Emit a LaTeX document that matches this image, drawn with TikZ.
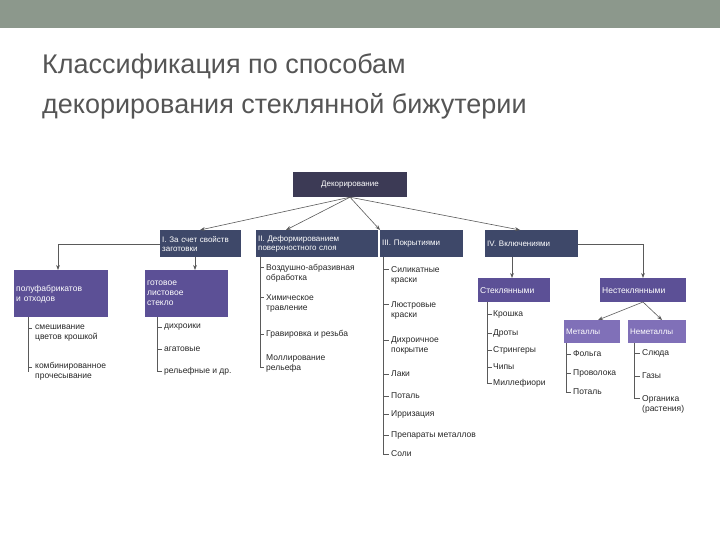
\documentclass[tikz,border=0pt]{standalone}
\usepackage{fontspec}
\setmainfont{Liberation Sans}
\usetikzlibrary{arrows.meta}
\definecolor{barc}{RGB}{140,152,140}
\definecolor{rootc}{RGB}{60,58,85}
\definecolor{lvc}{RGB}{62,72,105}
\definecolor{subc}{RGB}{92,80,150}
\definecolor{subl}{RGB}{128,112,184}
\definecolor{titc}{RGB}{85,85,85}
\definecolor{linec}{RGB}{90,90,90}
\begin{document}
\begin{tikzpicture}[x=1pt,y=-1pt,
  box/.style={draw=none,text=white,font=\fontsize{8}{9}\selectfont,align=left,inner sep=2pt,anchor=north west},
  item/.style={anchor=west,font=\fontsize{8.5}{10}\selectfont,align=left,inner sep=1pt,text=black!85},
  ln/.style={draw=linec,line width=0.6pt},
  arr/.style={ln,-{Stealth[length=5pt]}}]
\useasboundingbox (0,0) rectangle (720,540);
\fill[barc] (0,0) rectangle (720,28);
\node[anchor=north west,text=titc,font=\fontsize{27}{40}\selectfont,align=left,inner sep=0] (title) at (42,54) {Классификация по способам\\декорирования стеклянной бижутерии};
% root
\node[box,fill=rootc,minimum width=114,minimum height=25,align=center,anchor=center] (root) at (350,184.5) {Декорирование};
% level 1
\node[box,fill=lvc,minimum width=81,minimum height=27,text width=77] (L1) at (160,230) {I. За счет свойств\\заготовки};
\node[box,fill=lvc,minimum width=122,minimum height=27,text width=118] (L2) at (256,230) {II. Деформированием\\поверхностного слоя};
\node[box,fill=lvc,minimum width=83,minimum height=27,text width=79] (L3) at (380,230) {\\[-4pt]III. Покрытиями};
\node[box,fill=lvc,minimum width=93,minimum height=27,text width=89] (L4) at (485,230) {\\[-4pt]IV. Включениями};
\foreach \n/\x in {L1/200,L2/286,L3/380,L4/520}
  \draw[arr] (root.south) -- (\x,230);
% I children
\node[box,fill=subc,minimum width=94,minimum height=47,text width=90,font=\fontsize{8.5}{10}\selectfont] (S1) at (14,270) {\\[-2pt]полуфабрикатов\\и отходов};
\node[box,fill=subc,minimum width=83,minimum height=47,text width=79,font=\fontsize{8.5}{10}\selectfont] (S2) at (145,270) {готовое\\листовое\\стекло};
\coordinate (c1) at (58,244);
\draw[ln] (L1.west |- 0,244) -- (c1);
\draw[arr] (c1) -- (58,270);
\draw[arr] (195,257) -- (195,270);
\draw[ln] (28,317) -- (28,372);
\draw[ln] (28,328) -- (32,328) (28,367) -- (32,367);
\node[item] (i11) at (34,333.5) {смешивание\\цветов крошкой};
\node[item] (i12) at (34,371.5) {комбинированное\\прочесывание};
\draw[ln] (157,317) -- (157,371);
\foreach \y/\t in {327/дихроики,349/агатовые,371/рельефные и др.}
  {\draw[ln] (157,\y) -- (162,\y); \node[item] at (163,\y) {\t};}
% II
\draw[ln] (260,257) -- (260,367);
\foreach \y/\yt/\t in {267/273/{Воздушно-абразивная\\обработка},297/303/{Химическое\\травление},334/334/{Гравировка и резьба},367/363/{Моллирование\\рельефа}}
  {\draw[ln] (260,\y) -- (264,\y); \node[item] at (265,\yt) {\t};}
% III
\draw[ln] (383,257) -- (383,454);
\foreach \y/\yt/\t in {269/275/{Силикатные\\краски},304/310/{Люстровые\\краски},340/345/{Дихроичное\\покрытие},374/374/Лаки,396/396/Поталь,414/414/Ирризация,435/435/Препараты металлов,454/454/Соли}
  {\draw[ln] (383,\y) -- (389,\y); \node[item] at (390,\yt) {\t};}
% IV
\node[box,fill=subc,minimum width=72,minimum height=24,text width=68,font=\fontsize{8.5}{10}\selectfont] (G) at (478,278) {Стеклянными};
\node[box,fill=subc,minimum width=86,minimum height=24,text width=82,font=\fontsize{8.5}{10}\selectfont] (N) at (600,278) {Нестеклянными};
\draw[arr] (512,257) -- (512,278);
\coordinate (c4) at (643,244);
\draw[ln] (L4.east |- 0,244) -- (c4);
\draw[arr] (c4) -- (643,278);
\draw[ln] (487,302) -- (487,383);
\foreach \y/\t in {314/Крошка,333/Дроты,350/Стрингеры,367/Чипы,383/Миллефиори}
  {\draw[ln] (487,\y) -- (492,\y); \node[item] at (492,\y) {\t};}
\node[box,fill=subl,minimum width=56,minimum height=23,text width=52] (M) at (564,320) {Металлы};
\node[box,fill=subl,minimum width=58,minimum height=23,text width=54] (NM) at (628,320) {Неметаллы};
\draw[arr] (643,302) -- (598,320);
\draw[arr] (643,302) -- (662,320);
\draw[ln] (566,343) -- (566,392);
\foreach \y/\t in {354/Фольга,373/Проволока,392/Поталь}
  {\draw[ln] (566,\y) -- (571,\y); \node[item] at (572,\y) {\t};}
\draw[ln] (634,343) -- (634,398);
\foreach \y/\yt/\t in {353/353/Слюда,376/376/Газы,398/404/{Органика\\(растения)}}
  {\draw[ln] (634,\y) -- (640,\y); \node[item] at (641,\yt) {\t};}
\end{tikzpicture}
\end{document}
